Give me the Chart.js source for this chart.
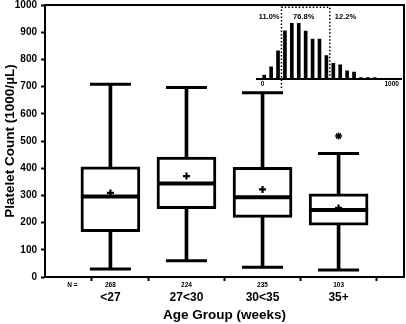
<!DOCTYPE html>
<html>
<head>
<meta charset="utf-8">
<script src="https://cdn.jsdelivr.net/npm/chart.js@4.4.1/dist/chart.umd.min.js"></script>
<style>
  html, body { margin: 0; padding: 0; background: #fff; }
  #wrap { position: relative; width: 406px; height: 324px; }
  #main { position: absolute; left: 0; top: 0; }
  #inset { position: absolute; left: 250px; top: 0; }
</style>
</head>
<body>
<div id="wrap">
  <canvas id="main" width="406" height="324"></canvas>
  <canvas id="inset" width="156" height="95"></canvas>
</div>
<script>
// box plot data per age group
var groups = ['<27', '27<30', '30<35', '35+'];
var groupPos = [1, 2, 3, 4];
var nCounts = ['268', '224', '235', '103'];
var whiskerLow = [29, 60, 36, 26];
var q1 = [167, 251, 219, 191];
var median = [296, 344, 293, 246];
var q3 = [405, 441, 403, 306];
var whiskerHigh = [709, 697, 677, 454];
var means = [309, 371, 322, 254];
var outlierGroup = [4];
var outlierValue = [518];

// inset histogram (all infants)
var insetBins = [25, 75, 125, 175, 225, 275, 325, 375, 425, 475, 525, 575, 625, 675, 725, 775, 825];
var insetCounts = [8, 25, 58, 99, 114, 114, 98, 82, 82, 48, 32, 29, 17, 14, 3, 3, 3];
var insetCutoffs = [150, 500];
var insetShares = ['11.0%', '76.8%', '12.2%'];
var insetTicks = [0, 1000];

Chart.defaults.font.family = "'Liberation Sans', Arial, sans-serif";
Chart.defaults.color = '#000';

var boxes = [], lowStems = [], highStems = [], caps = [], meds = [], meanPts = [], outPts = [];
for (var i = 0; i < groups.length; i++) {
  var g = groupPos[i];
  boxes.push({x: g, y: [q1[i], q3[i]]});
  lowStems.push({x: g, y: [whiskerLow[i], q1[i]]});
  highStems.push({x: g, y: [q3[i], whiskerHigh[i]]});
  caps.push({x: g, y: whiskerLow[i]});
  caps.push({x: g, y: whiskerHigh[i]});
  meds.push({x: g, y: median[i]});
  meanPts.push({x: g, y: means[i]});
}
for (var j = 0; j < outlierGroup.length; j++) {
  outPts.push({x: outlierGroup[j], y: outlierValue[j]});
}

var xMin = 0.14, xMax = 4.86;

new Chart(document.getElementById('main'), {
  type: 'bar',
  data: {
    datasets: [
      { type: 'line', data: meds, showLine: false, pointStyle: 'line', pointRadius: 29.5,
        pointBorderWidth: 4, pointBorderColor: '#000', order: 0 },
      { type: 'line', data: meanPts, showLine: false, pointStyle: 'cross', pointRadius: 3.5,
        pointBorderWidth: 2.2, pointBorderColor: '#000', order: 0 },
      { type: 'line', data: outPts, showLine: false, pointStyle: 'star', pointRadius: 3.5,
        pointBorderWidth: 1.5, pointBorderColor: '#000', order: 0 },
      { type: 'line', data: caps, showLine: false, pointStyle: 'line', pointRadius: 20.5,
        pointBorderWidth: 3, pointBorderColor: '#000', order: 1 },
      { data: boxes, backgroundColor: '#fff', borderColor: '#000', borderWidth: 3,
        borderSkipped: false, barThickness: 59, grouped: false, order: 2 },
      { data: lowStems, backgroundColor: '#000', borderWidth: 0, barThickness: 3, grouped: false, order: 3 },
      { data: highStems, backgroundColor: '#000', borderWidth: 0, barThickness: 3, grouped: false, order: 3 }
    ]
  },
  options: {
    responsive: false,
    animation: false,
    layout: { autoPadding: false, padding: { top: 5, right: 2, left: 0, bottom: 0 } },
    plugins: { legend: { display: false }, tooltip: { enabled: false } },
    scales: {
      x: {
        type: 'linear', position: 'bottom', min: xMin, max: xMax, offset: false,
        afterBuildTicks: function(s) {
          s.ticks = [0.5].concat(groupPos).map(function(v) { return {value: v}; });
        },
        ticks: {
          autoSkip: false, maxRotation: 0, padding: 0,
          font: { size: 6.5, weight: 'bold' },
          callback: function(v, i) { return i === 0 ? 'N =' : nCounts[i - 1]; }
        },
        grid: {
          drawOnChartArea: false, drawTicks: true, tickLength: 4, tickWidth: 2,
          tickColor: function(c) { return c.index === 0 ? 'rgba(0,0,0,0)' : '#000'; }
        },
        border: { color: '#000', width: 2 },
        afterFit: function(s) { s.height = 13; }
      },
      x2: {
        type: 'linear', position: 'bottom', min: xMin, max: xMax, offset: false,
        afterBuildTicks: function(s) {
          s.ticks = groupPos.map(function(v) { return {value: v}; });
        },
        ticks: {
          autoSkip: false, maxRotation: 0, padding: 0,
          font: { size: 12, weight: 'bold' },
          callback: function(v, i) { return groups[i]; }
        },
        grid: { display: false, drawTicks: false },
        border: { display: false },
        title: { display: true, text: 'Age Group (weeks)', font: { size: 13.5, weight: 'bold' },
          padding: { top: 0, bottom: 1 } },
        afterFit: function(s) { s.height = 34; }
      },
      xTop: {
        type: 'linear', position: 'top', min: xMin, max: xMax, offset: false,
        ticks: { display: false },
        grid: { display: false, drawTicks: false },
        border: { color: '#000', width: 2 }
      },
      y: {
        min: 0, max: 1000,
        ticks: { stepSize: 100, padding: 4, font: { size: 10, weight: 'bold' },
          callback: function(v) { return String(v); } },
        grid: { drawOnChartArea: false, tickLength: 4, tickWidth: 2, tickColor: '#000' },
        border: { color: '#000', width: 2 },
        title: { display: true, text: 'Platelet Count (1000/µL)', font: { size: 13.5, weight: 'bold' },
          padding: { top: 2, bottom: 0 } },
        afterFit: function(s) { s.width = 45; s.paddingTop = 0; s.paddingBottom = 0; }
      },
      yRight: {
        position: 'right', min: 0, max: 1000,
        ticks: { display: false },
        grid: { display: false, drawTicks: false },
        border: { color: '#000', width: 2 }
      }
    }
  }
});

// dotted cutoff box and percentage labels on the inset
var cutoffPlugin = {
  id: 'cutoffs',
  afterDatasetsDraw: function(chart) {
    var ctx = chart.ctx, x = chart.scales.x, a = chart.chartArea;
    var xl = x.getPixelForValue(insetCutoffs[0]);
    var xr = x.getPixelForValue(insetCutoffs[1]);
    ctx.save();
    ctx.strokeStyle = '#000';
    ctx.lineWidth = 1.5;
    ctx.setLineDash([1.5, 2]);
    ctx.beginPath();
    ctx.moveTo(xl, a.bottom + 9);
    ctx.lineTo(xl, a.top);
    ctx.lineTo(xr, a.top);
    ctx.lineTo(xr, a.bottom);
    ctx.stroke();
    ctx.setLineDash([]);
    ctx.fillStyle = '#000';
    ctx.font = "bold 7.5px 'Liberation Sans', Arial, sans-serif";
    ctx.textBaseline = 'middle';
    var ty = a.top + 9.4;
    ctx.textAlign = 'right';
    ctx.fillText(insetShares[0], xl - 2, ty);
    ctx.textAlign = 'center';
    ctx.fillText(insetShares[1], (xl + xr) / 2 - 2, ty);
    ctx.textAlign = 'left';
    ctx.fillText(insetShares[2], xr + 5, ty);
    ctx.restore();
  }
};

new Chart(document.getElementById('inset'), {
  type: 'bar',
  data: {
    datasets: [{
      data: insetBins.map(function(b, i) { return {x: b, y: insetCounts[i]}; }),
      backgroundColor: '#000', borderWidth: 0, barThickness: 3, grouped: false
    }]
  },
  options: {
    responsive: false,
    animation: false,
    layout: { autoPadding: false, padding: { left: 7.3, right: 4.3, top: 7.3, bottom: 0 } },
    plugins: { legend: { display: false }, tooltip: { enabled: false } },
    scales: {
      x: {
        type: 'linear', min: -25, max: 1020, offset: false,
        afterBuildTicks: function(s) {
          s.ticks = insetTicks.map(function(v) { return {value: v}; });
        },
        ticks: { align: 'inner', autoSkip: false, maxRotation: 0, padding: 1,
          font: { size: 6.5, weight: 'bold' },
          callback: function(v) { return String(v); } },
        grid: { display: false, drawTicks: false },
        border: { color: '#000', width: 2 },
        afterFit: function(s) { s.height = 16; }
      },
      y: { display: false, min: 0, max: 147 }
    }
  },
  plugins: [cutoffPlugin]
});
</script>
</body>
</html>
